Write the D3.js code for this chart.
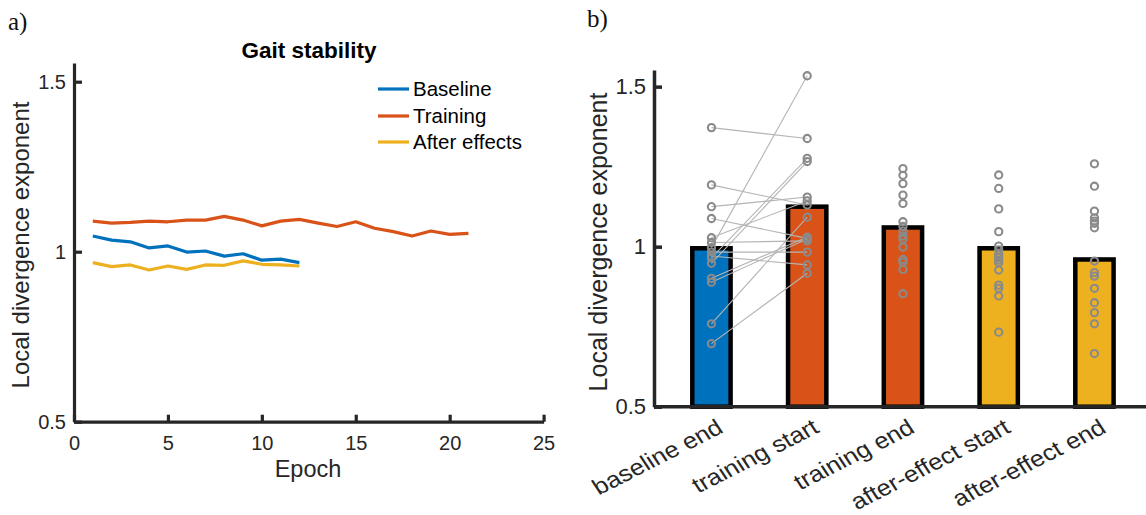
<!DOCTYPE html>
<html>
<head>
<meta charset="utf-8">
<script src="https://cdn.jsdelivr.net/npm/d3@7"></script>
<style>
  html, body { margin: 0; padding: 0; background: #fff; }
  svg text { font-family: "Liberation Sans", Arial, Helvetica, sans-serif; }
</style>
</head>
<body>
<svg id="chart" width="1146" height="515"></svg>
<script>
// ---------------- DATA ----------------
// Panel a) : group mean curves per epoch
const epochsBaseline = [1, 2, 3, 4, 5, 6, 7, 8, 9, 10, 11, 12];
const epochsTraining = [1, 2, 3, 4, 5, 6, 7, 8, 9, 10, 11, 12, 13, 14, 15, 16, 17, 18, 19, 20, 21];
const epochsAfter    = [1, 2, 3, 4, 5, 6, 7, 8, 9, 10, 11, 12];
const baselineCurve = [1.046, 1.034, 1.029, 1.011, 1.017, 0.999, 1.002, 0.987, 0.994, 0.975, 0.978, 0.968];
const trainingCurve = [1.090, 1.084, 1.086, 1.090, 1.088, 1.093, 1.093, 1.104, 1.093, 1.076, 1.090,
                       1.095, 1.084, 1.074, 1.088, 1.069, 1.059, 1.046, 1.061, 1.051, 1.054];
const afterCurve    = [0.968, 0.956, 0.961, 0.946, 0.958, 0.948, 0.961, 0.960, 0.973, 0.963, 0.961, 0.958];
const seriesNames   = ["Baseline", "Training", "After effects"];
const xTicksA = [0, 5, 10, 15, 20, 25];
const yTicksA = [0.5, 1, 1.5];
const yTickLabelsA = ["0.5", "1", "1.5"];

// Panel b) : bar means and individual subjects
const categories = ["baseline end", "training start", "training end", "after-effect start", "after-effect end"];
const barMeans   = [0.995, 1.125, 1.060, 0.995, 0.960];
// paired subjects (same index = same subject) for baseline end -> training start
const subjBaselineEnd   = [1.372, 1.193, 1.125, 1.088, 1.028, 1.013, 0.997, 0.983, 0.971, 0.965, 0.948, 0.901, 0.889, 0.759, 0.697];
const subjTrainingStart = [1.338, 1.130, 1.155, 1.026, 1.143, 1.018, 1.534, 0.983, 0.943, 1.276, 1.266, 1.030, 1.024, 1.092, 0.917];
const subjTrainingEnd   = [1.244, 1.223, 1.197, 1.161, 1.135, 1.078, 1.063, 1.049, 1.033, 1.023, 0.999, 0.960, 0.952, 0.929, 0.853];
const subjAfterStart    = [1.224, 1.182, 1.118, 1.047, 1.002, 0.990, 0.976, 0.966, 0.958, 0.950, 0.927, 0.880, 0.870, 0.846, 0.733];
const subjAfterEnd      = [1.259, 1.189, 1.111, 1.090, 1.080, 1.073, 1.059, 0.955, 0.919, 0.908, 0.870, 0.825, 0.794, 0.759, 0.666];
const yTicksB = [0.5, 1, 1.5];
const yTickLabelsB = ["0.5", "1", "1.5"];

// ---------------- STYLE ----------------
const C_BLUE = "#0072BD", C_ORANGE = "#D95319", C_YELLOW = "#EDB120";
const AXIS = "#262626";
const svg = d3.select("#chart");

// =============== PANEL A ===============
const xA = d3.scaleLinear().domain([0, 25]).range([74, 543.6]);
const yA = d3.scaleLinear().domain([0.5, 1.555]).range([421.7, 63]);

svg.append("text").attr("x", 8).attr("y", 30)
  .style("font-family", "'Liberation Serif', 'Times New Roman', serif")
  .attr("font-size", 25).attr("fill", "#111").text("a)");

svg.append("text").attr("x", 309).attr("y", 58).attr("text-anchor", "middle")
  .attr("font-size", 22.5).attr("font-weight", "bold").attr("fill", "#000").text("Gait stability");

const gAx = svg.append("g").attr("transform", `translate(0,${yA(0.5)})`)
  .call(d3.axisBottom(xA).tickValues(xTicksA).tickFormat(d3.format("d")).tickSizeInner(-7).tickSizeOuter(0).tickPadding(14));
const gAy = svg.append("g").attr("transform", `translate(${xA(0)},0)`)
  .call(d3.axisLeft(yA).tickValues(yTicksA).tickFormat((d, i) => yTickLabelsA[i]).tickSizeInner(-8).tickSizeOuter(0).tickPadding(8));
[gAx, gAy].forEach(g => {
  g.select(".domain").attr("stroke", AXIS).attr("stroke-width", 3.2);
  g.selectAll(".tick line").attr("stroke", AXIS).attr("stroke-width", 3.2);
  g.selectAll(".tick text").attr("fill", AXIS).attr("font-size", 20).style("font-family", "'Liberation Sans', Arial, sans-serif");
});

svg.append("text").attr("x", 308).attr("y", 477).attr("text-anchor", "middle")
  .attr("font-size", 23.5).attr("fill", AXIS).text("Epoch");
svg.append("text").attr("transform", "translate(29,245) rotate(-90)").attr("text-anchor", "middle")
  .attr("font-size", 24).attr("fill", AXIS).text("Local divergence exponent");

const lineA = d3.line().x(d => xA(d[0])).y(d => yA(d[1]));
const curves = [
  { name: seriesNames[0], color: C_BLUE,   pts: d3.zip(epochsBaseline, baselineCurve) },
  { name: seriesNames[1], color: C_ORANGE, pts: d3.zip(epochsTraining, trainingCurve) },
  { name: seriesNames[2], color: C_YELLOW, pts: d3.zip(epochsAfter, afterCurve) }
];
// draw order: training, after effects, baseline on top
[curves[1], curves[2], curves[0]].forEach(c => {
  svg.append("path").attr("d", lineA(c.pts)).attr("fill", "none")
    .attr("stroke", c.color).attr("stroke-width", 3.2).attr("stroke-linejoin", "round");
});
// legend
const legY = [89, 116, 142];
curves.forEach((c, i) => {
  svg.append("line").attr("x1", 378).attr("x2", 409).attr("y1", legY[i]).attr("y2", legY[i])
    .attr("stroke", c.color).attr("stroke-width", 3.2);
  svg.append("text").attr("x", 413).attr("y", legY[i]).attr("dy", "0.36em")
    .attr("font-size", 20.5).attr("fill", "#000").text(c.name);
});

// =============== PANEL B ===============
const xB = d3.scaleLinear().domain([0.4, 5.6]).range([654, 654 + 5.2 * 95.75]);
const yB = d3.scaleLinear().domain([0.5, 1.552]).range([406.7, 70]);
const barColors = [C_BLUE, C_ORANGE, C_ORANGE, C_YELLOW, C_YELLOW];
const barW = 0.40; // in category units

svg.append("text").attr("x", 587).attr("y", 27)
  .style("font-family", "'Liberation Serif', 'Times New Roman', serif")
  .attr("font-size", 25).attr("fill", "#111").text("b)");

// bars
categories.forEach((c, i) => {
  const cx = i + 1;
  svg.append("rect")
    .attr("x", xB(cx - barW / 2)).attr("width", xB(cx + barW / 2) - xB(cx - barW / 2))
    .attr("y", yB(barMeans[i])).attr("height", yB(0.5) - yB(barMeans[i]))
    .attr("fill", barColors[i]).attr("stroke", "#000").attr("stroke-width", 4.5);
});

// paired lines
subjBaselineEnd.forEach((v, k) => {
  svg.append("line")
    .attr("x1", xB(1)).attr("y1", yB(v))
    .attr("x2", xB(2)).attr("y2", yB(subjTrainingStart[k]))
    .attr("stroke", "#b4b4b4").attr("stroke-width", 1.1);
});

// subject markers
const subjCols = [subjBaselineEnd, subjTrainingStart, subjTrainingEnd, subjAfterStart, subjAfterEnd];
subjCols.forEach((col, i) => {
  col.forEach(v => {
    svg.append("circle").attr("cx", xB(i + 1)).attr("cy", yB(v)).attr("r", 3.6)
      .attr("fill", "none").attr("stroke", "#8a8a8a").attr("stroke-width", 2.1);
  });
});

// axes
const gBy = svg.append("g").attr("transform", `translate(${xB(0.4)},0)`)
  .call(d3.axisLeft(yB).tickValues(yTicksB).tickFormat((d, i) => yTickLabelsB[i]).tickSizeInner(-8).tickSizeOuter(0).tickPadding(8));
gBy.select(".domain").attr("stroke", AXIS).attr("stroke-width", 3.5);
gBy.selectAll(".tick line").attr("stroke", AXIS).attr("stroke-width", 3.5);
gBy.selectAll(".tick text").attr("fill", AXIS).attr("font-size", 22).style("font-family", "'Liberation Sans', Arial, sans-serif");

svg.append("line").attr("x1", xB(0.4)).attr("x2", 1146).attr("y1", yB(0.5)).attr("y2", yB(0.5))
  .attr("stroke", AXIS).attr("stroke-width", 3.5);

// category labels (slightly wide, as in the reference)
categories.forEach((c, i) => {
  svg.append("text")
    .attr("transform", `translate(${xB(i + 1) + 4},${yB(0.5) + 11}) scale(1.14,1) rotate(-30)`)
    .attr("text-anchor", "end").attr("dy", "0.72em")
    .attr("font-size", 22.5).attr("fill", AXIS).text(c);
});

svg.append("text").attr("transform", "translate(607,242) rotate(-90)").attr("text-anchor", "middle")
  .attr("font-size", 25).attr("fill", AXIS).text("Local divergence exponent");
</script>
</body>
</html>
